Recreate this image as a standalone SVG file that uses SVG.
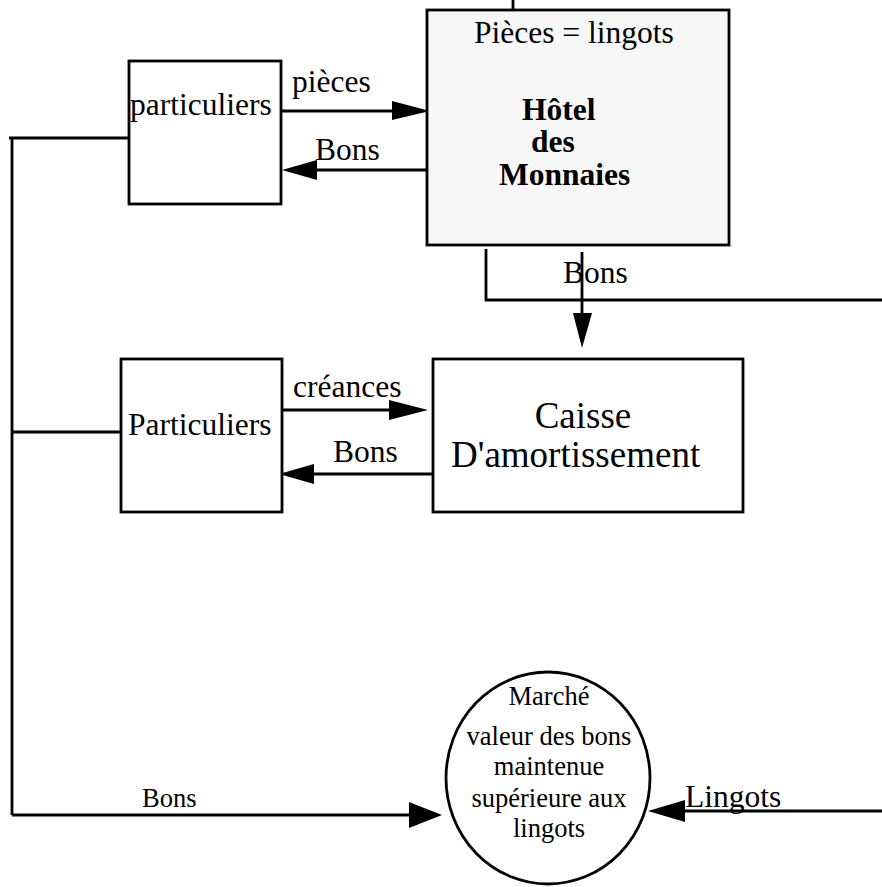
<svg xmlns="http://www.w3.org/2000/svg" width="882" height="887" viewBox="0 0 882 887">
<style>
.box{fill:#fff;stroke:#000;stroke-width:2.8}
.gray{fill:#f7f7f7}
.ln{fill:none;stroke:#000;stroke-width:2.8}
.ah{fill:#000;stroke:none}
text{font-family:"Liberation Serif","Times New Roman",serif;fill:#000}
.t31{font-size:31.5px}
.t26{font-size:26.5px}
.t37{font-size:37px}
.b{font-weight:bold}
</style>
<rect width="882" height="887" fill="#fff"/>
<g id="connectors">
<line class="ln" x1="281" y1="111" x2="395" y2="111"/>
<polygon class="ah" points="430,111 392,101 392,120"/>
<text class="t31" x="292" y="92">pièces</text>
<line class="ln" x1="434" y1="170" x2="312" y2="170"/>
<polygon class="ah" points="282,170 317,160 317,180"/>
<text class="t31" x="315" y="160">Bons</text>
<line class="ln" x1="513" y1="0" x2="513" y2="15"/>
<polyline class="ln" points="486,249 486,300 882,300"/>
<line class="ln" x1="582" y1="252" x2="582" y2="318"/>
<polygon class="ah" points="582,348 573,313 592,313"/>
<text class="t31" x="563" y="283">Bons</text>
<line class="ln" x1="282" y1="410" x2="392" y2="410"/>
<polygon class="ah" points="428,410 389,400 389,420"/>
<text class="t31" x="293" y="397">créances</text>
<line class="ln" x1="432" y1="474" x2="310" y2="474"/>
<polygon class="ah" points="279,474 314,464 314,484"/>
<text class="t31" x="333" y="462">Bons</text>
<line class="ln" x1="9" y1="138" x2="133" y2="138"/>
<line class="ln" x1="12" y1="138" x2="12" y2="815"/>
<line class="ln" x1="12" y1="432" x2="121" y2="432"/>
<line class="ln" x1="12" y1="815" x2="412" y2="815"/>
<polygon class="ah" points="442,815 409,802 409,828"/>
<text class="t26" x="142" y="807">Bons</text>
<line class="ln" x1="882" y1="811" x2="680" y2="811"/>
<polygon class="ah" points="648,811 685,800 685,822"/>
<text class="t31" x="685" y="807">Lingots</text>
</g>
<g id="node-particuliers-top">
<rect class="box" x="129" y="61" width="152" height="143"/>
<text class="t31" x="130" y="115">particuliers</text>
</g>
<g id="node-hotel">
<rect class="box gray" x="427" y="10" width="302" height="235"/>
<text class="t31" x="474" y="43">Pièces = lingots</text>
<text class="t31 b" x="522" y="120">Hôtel</text>
<text class="t31 b" x="531" y="152">des</text>
<text class="t31 b" x="499" y="185">Monnaies</text>
</g>
<g id="node-particuliers-mid">
<rect class="box" x="121" y="359" width="161" height="153"/>
<text class="t31" x="128" y="435">Particuliers</text>
</g>
<g id="node-caisse">
<rect class="box" x="433" y="359" width="310" height="153"/>
<text class="t37" x="583" y="428" text-anchor="middle">Caisse</text>
<text class="t37" x="451" y="467">D'amortissement</text>
</g>
<g id="node-marche">
<ellipse class="box" cx="548" cy="778" rx="102" ry="106"/>
<g class="t26" text-anchor="middle">
<text x="549" y="705">Marché</text>
<text x="549" y="745">valeur des bons</text>
<text x="549" y="775">maintenue</text>
<text x="549" y="807">supérieure aux</text>
<text x="549" y="837">lingots</text>
</g>
</g>
</svg>
